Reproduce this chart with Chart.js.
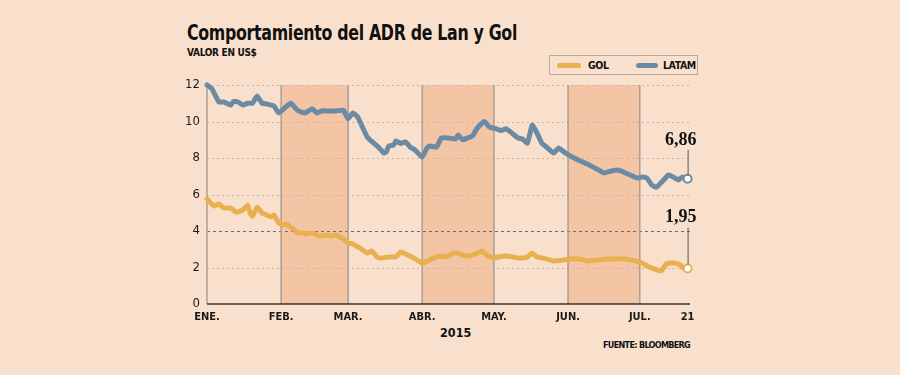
<!DOCTYPE html>
<html>
<head>
<meta charset="utf-8">
<script src="https://cdn.jsdelivr.net/npm/chart.js@4.4.0/dist/chart.umd.min.js"></script>
<style>
  html, body { margin:0; padding:0; background:#f9e0cd; }
  body { width:900px; height:375px; position:relative; overflow:hidden; font-family:"DejaVu Sans Condensed","DejaVu Sans",sans-serif; color:#111; }
  #c { position:absolute; left:0; top:0; }
  .t { position:absolute; white-space:nowrap; }
  #title { left:187px; top:20px; font-size:22px; font-weight:bold; letter-spacing:-0.4px; transform-origin:0 0; }
  #sub { left:187px; top:47px; font-size:10px; font-weight:bold; letter-spacing:-0.3px; }
  #legend { position:absolute; left:549px; top:55px; width:147px; height:18px; border:1px solid #b9aaa0; }
  .li { position:absolute; top:0; height:18px; line-height:18px; font-size:10.5px; font-weight:bold; letter-spacing:-0.4px; }
  .sw { position:absolute; top:7px; height:5px; border-radius:3px; }
  #year { left:440px; top:325px; font-size:12.5px; font-weight:bold; }
  #src { left:603px; top:340px; font-size:9px; font-weight:bold; letter-spacing:-0.7px; }
</style>
</head>
<body>
<div class="t" id="title">Comportamiento del ADR de Lan y Gol</div>
<div class="t" id="sub">VALOR EN US$</div>
<div id="legend"></div>
<div class="t" id="year">2015</div>
<div class="t" id="src">FUENTE: BLOOMBERG</div>
<canvas id="c" width="900" height="375"></canvas>
<script>
// ---- data (x = days since 1 Jan 2015) ----
const monthTicks  = [0, 31, 59, 90, 120, 151, 181, 201];
const monthLabels = ['ENE.', 'FEB.', 'MAR.', 'ABR.', 'MAY.', 'JUN.', 'JUL.', '21'];
const shadedMonths = [[31, 59], [90, 120], [151, 181]];
const yTicks = [0, 2, 4, 6, 8, 10, 12];

const seriesNames  = ['GOL', 'LATAM'];
const seriesColors = ['#e9b04f', '#6b8ba4'];
const endLabels    = ['1,95', '6,86'];

const latamDays = [0, 2, 5, 7, 10, 11, 13, 15, 17, 19, 21, 23, 25, 28, 30, 33, 35, 38, 41, 44, 46, 48, 51, 54, 57, 59, 61, 63, 65, 67, 69, 72, 74, 75, 76, 78, 79, 81, 83, 85, 87, 90, 92, 93, 96, 98, 101, 104, 105, 107, 109, 111, 113, 116, 118, 121, 123, 125, 127, 130, 132, 134, 136, 138, 140, 142, 145, 147, 150, 155, 159, 163, 166, 169, 172, 175, 178, 180, 182, 184, 186, 188, 191, 193, 195, 197, 199, 201];
const latamValues = [12.0, 11.8, 11.07, 11.07, 10.9, 11.1, 11.07, 10.9, 11.0, 11.0, 11.4, 11.0, 10.96, 10.85, 10.47, 10.8, 11.0, 10.6, 10.47, 10.7, 10.47, 10.58, 10.58, 10.58, 10.62, 10.15, 10.47, 10.25, 9.7, 9.15, 8.9, 8.55, 8.27, 8.33, 8.66, 8.7, 8.93, 8.8, 8.88, 8.6, 8.44, 8.05, 8.55, 8.66, 8.6, 9.1, 9.1, 9.04, 9.26, 9.0, 9.1, 9.2, 9.64, 10.0, 9.7, 9.6, 9.5, 9.6, 9.42, 9.1, 9.04, 8.82, 9.8, 9.37, 8.82, 8.6, 8.27, 8.55, 8.27, 7.9, 7.67, 7.4, 7.18, 7.29, 7.34, 7.18, 7.01, 6.9, 6.96, 6.9, 6.52, 6.4, 6.8, 7.07, 6.96, 6.8, 6.96, 6.86];

const golDays = [0, 2, 3, 5, 7, 10, 12, 15, 17, 18, 19, 21, 23, 25, 27, 28, 30, 32, 33, 35, 38, 40, 41, 43, 45, 47, 50, 52, 54, 57, 59, 61, 63, 64, 67, 69, 71, 73, 76, 79, 81, 84, 87, 90, 93, 96, 98, 100, 103, 105, 108, 111, 113, 115, 117, 120, 122, 125, 128, 130, 132, 134, 136, 138, 142, 145, 149, 152, 156, 159, 163, 167, 171, 175, 179, 182, 184, 187, 190, 192, 195, 198, 199, 201];
const golValues = [5.75, 5.48, 5.37, 5.48, 5.26, 5.26, 5.04, 5.15, 5.42, 4.99, 4.82, 5.3, 4.99, 4.88, 4.77, 4.88, 4.44, 4.33, 4.38, 4.22, 3.89, 3.89, 3.84, 3.89, 3.84, 3.73, 3.78, 3.73, 3.78, 3.56, 3.34, 3.29, 3.12, 3.07, 2.79, 2.9, 2.58, 2.52, 2.58, 2.58, 2.85, 2.68, 2.47, 2.25, 2.41, 2.58, 2.63, 2.58, 2.79, 2.79, 2.63, 2.68, 2.79, 2.9, 2.68, 2.52, 2.58, 2.63, 2.58, 2.52, 2.52, 2.58, 2.79, 2.58, 2.47, 2.36, 2.41, 2.47, 2.47, 2.36, 2.41, 2.47, 2.47, 2.47, 2.36, 2.25, 2.08, 1.92, 1.81, 2.19, 2.25, 2.14, 1.97, 1.95];

// ---- title fit ----
const titleEl = document.getElementById('title');
const tw = titleEl.getBoundingClientRect().width;
titleEl.style.transform = 'scaleX(' + (330 / tw) + ')';

// ---- legend ----
const legend = document.getElementById('legend');
const legendPos = [[7, 24, 38], [86, 22, 113]];
seriesNames.forEach((n, i) => {
  const sw = document.createElement('div');
  sw.className = 'sw';
  sw.style.left = legendPos[i][0] + 'px';
  sw.style.width = legendPos[i][1] + 'px';
  sw.style.background = seriesColors[i];
  legend.appendChild(sw);
  const tx = document.createElement('div');
  tx.className = 'li';
  tx.style.left = legendPos[i][2] + 'px';
  tx.textContent = n;
  legend.appendChild(tx);
});

const backPlugin = {
  id: 'back',
  beforeDatasetsDraw(chart) {
    const { ctx, chartArea: a, scales: { x, y } } = chart;
    ctx.save();
    ctx.fillStyle = '#f3c5a5';
    shadedMonths.forEach(([s, e]) => {
      const x0 = x.getPixelForValue(s), x1 = x.getPixelForValue(e);
      ctx.fillRect(x0, a.top, x1 - x0, a.bottom - a.top);
    });
    yTicks.forEach(v => {
      if (v === 0) return;
      const py = Math.round(y.getPixelForValue(v)) + 0.5;
      ctx.beginPath();
      if (v === 4) { ctx.strokeStyle = '#6f6a66'; ctx.setLineDash([3, 3]); ctx.lineWidth = 1; }
      else { ctx.strokeStyle = '#cdb3a2'; ctx.setLineDash([2, 3]); ctx.lineWidth = 1; }
      ctx.moveTo(a.left, py); ctx.lineTo(a.right, py); ctx.stroke();
    });
    ctx.setLineDash([]);
    ctx.strokeStyle = '#ab9e96';
    ctx.lineWidth = 1.5;
    monthTicks.slice(0, 7).forEach(v => {
      const px = x.getPixelForValue(v);
      ctx.beginPath(); ctx.moveTo(px, a.top); ctx.lineTo(px, a.bottom); ctx.stroke();
    });
    ctx.strokeStyle = '#333';
    ctx.lineWidth = 1.5;
    ctx.beginPath(); ctx.moveTo(a.left, a.bottom); ctx.lineTo(a.right, a.bottom); ctx.stroke();
    ctx.restore();
  }
};

const labelOffsets = [46, 34];
const endPlugin = {
  id: 'endLabels',
  afterDatasetsDraw(chart) {
    const { ctx } = chart;
    ctx.save();
    chart.data.datasets.forEach((ds, i) => {
      const meta = chart.getDatasetMeta(i);
      const pt = meta.data[meta.data.length - 1];
      const ty = pt.y - labelOffsets[i];
      ctx.strokeStyle = '#555';
      ctx.lineWidth = 1;
      ctx.beginPath(); ctx.moveTo(pt.x + 0.5, ty + 5); ctx.lineTo(pt.x + 0.5, pt.y - 4); ctx.stroke();
      ctx.fillStyle = '#111';
      ctx.font = 'bold 18px "Liberation Serif", serif';
      ctx.textAlign = 'right';
      ctx.textBaseline = 'alphabetic';
      ctx.fillText(endLabels[i], pt.x + 9, ty);
    });
    ctx.restore();
  }
};

function lastOnly(r) { return (c) => c.dataIndex === c.dataset.data.length - 1 ? r : 0; }

new Chart(document.getElementById('c'), {
  type: 'line',
  data: {
    datasets: [
      { label: seriesNames[0], data: golDays.map((d, i) => ({ x: d, y: golValues[i] })) },
      { label: seriesNames[1], data: latamDays.map((d, i) => ({ x: d, y: latamValues[i] })) }
    ].map((d, i) => Object.assign(d, {
      borderColor: seriesColors[i],
      borderWidth: 5,
      tension: 0.15,
      borderCapStyle: 'round',
      borderJoinStyle: 'round',
      pointRadius: lastOnly(4),
      pointBorderWidth: 2,
      pointBackgroundColor: '#ffffff',
      pointBorderColor: seriesColors[i],
      clip: false
    }))
  },
  options: {
    responsive: false,
    animation: false,
    events: [],
    layout: { padding: { left: 180, right: 210, top: 85, bottom: 51 } },
    scales: {
      x: {
        type: 'linear', min: 0, max: 202,
        afterBuildTicks: s => { s.ticks = monthTicks.map(v => ({ value: v })); },
        afterFit: s => { s.height = 20; },
        ticks: {
          autoSkip: false, maxRotation: 0, padding: 7,
          callback: v => monthLabels[monthTicks.indexOf(v)],
          color: '#1a1a1a',
          font: { family: '"DejaVu Sans Condensed", sans-serif', size: 11, weight: 'bold' }
        },
        grid: { display: false, drawTicks: false },
        border: { display: false }
      },
      y: {
        min: 0, max: 12,
        afterBuildTicks: s => { s.ticks = yTicks.map(v => ({ value: v })); },
        afterFit: s => { s.width = 27; },
        ticks: {
          padding: 7, color: '#1a1a1a',
          font: { family: '"DejaVu Sans Condensed", sans-serif', size: 13 }
        },
        grid: { display: false, drawTicks: false },
        border: { display: false }
      }
    },
    plugins: { legend: { display: false }, tooltip: { enabled: false } }
  },
  plugins: [backPlugin, endPlugin]
});
</script>
</body>
</html>
